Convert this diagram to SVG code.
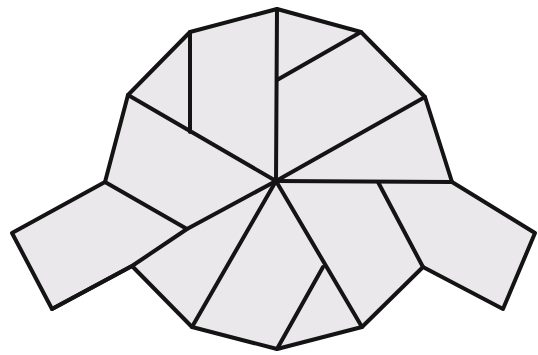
<svg xmlns="http://www.w3.org/2000/svg" width="538" height="355" viewBox="0 0 538 355">
<style>
.shape{fill:#ebe8eb;stroke:#141414;stroke-width:4;stroke-linejoin:round}
.cut{fill:none;stroke:#141414;stroke-width:4;stroke-linecap:round;stroke-linejoin:round}
</style>
<rect width="538" height="355" fill="#ffffff"/>
<g id="outline">
<polygon class="shape" points="277,9 361,32 425,97 452,182 535,233 503,309 423,267 362,327 277,349 192,327 132,266 52,309 12,233 105,182 128,95 190,32"/>
</g>
<g id="cuts">
<line class="cut" x1="277" y1="9" x2="276" y2="181"/>
<line class="cut" x1="361" y1="32" x2="277" y2="80"/>
<line class="cut" x1="425" y1="97" x2="276" y2="181"/>
<line class="cut" x1="276" y1="181" x2="452" y2="182"/>
<line class="cut" x1="378" y1="182" x2="423" y2="267"/>
<line class="cut" x1="276" y1="181" x2="362" y2="327"/>
<line class="cut" x1="323" y1="267" x2="277" y2="349"/>
<line class="cut" x1="276" y1="181" x2="192" y2="327"/>
<polyline class="cut" points="276,181 187,229 132,266 52,309"/>
<line class="cut" x1="105" y1="182" x2="187" y2="229"/>
<line class="cut" x1="128" y1="95" x2="276" y2="181"/>
<line class="cut" x1="190" y1="32" x2="190" y2="132"/>
</g>
</svg>
